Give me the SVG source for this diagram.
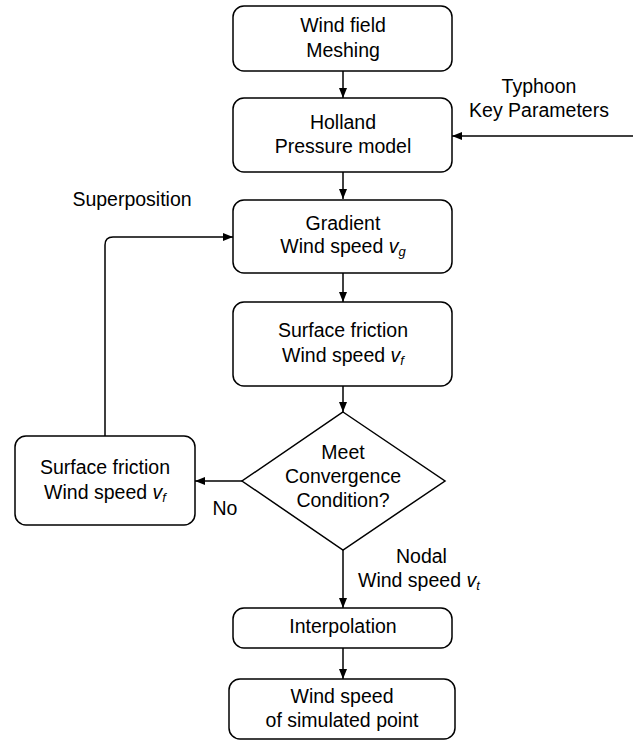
<svg xmlns="http://www.w3.org/2000/svg" width="633" height="741" viewBox="0 0 633 741">
<style>
.box{fill:#fff;stroke:#000;stroke-width:1.5}
.ln{fill:none;stroke:#000;stroke-width:1.5}
text{font-family:"Liberation Sans",Arial,sans-serif;font-size:19.5px;fill:#000;text-anchor:middle}
.l{text-anchor:start}
.i{font-style:italic}
.s{font-style:italic;font-size:13px}
</style>
<defs>
<marker id="ah" markerWidth="10" markerHeight="8" refX="10" refY="4" orient="auto" markerUnits="userSpaceOnUse">
<path d="M0,0 L10,4 L0,8 Z" fill="#000"/>
</marker>
</defs>
<rect width="633" height="741" fill="#fff"/>
<g id="connectors">
<line class="ln" x1="343" y1="71" x2="343" y2="98" marker-end="url(#ah)"/>
<line class="ln" x1="633" y1="136" x2="452" y2="136" marker-end="url(#ah)"/>
<line class="ln" x1="343" y1="172" x2="343" y2="199" marker-end="url(#ah)"/>
<line class="ln" x1="343" y1="273" x2="343" y2="302" marker-end="url(#ah)"/>
<line class="ln" x1="343" y1="386" x2="343" y2="412" marker-end="url(#ah)"/>
<line class="ln" x1="242" y1="481" x2="195" y2="481" marker-end="url(#ah)"/>
<path class="ln" d="M105,436 L105,245 Q105,237 113,237 L233,237" marker-end="url(#ah)"/>
<line class="ln" x1="343" y1="550" x2="343" y2="608" marker-end="url(#ah)"/>
<line class="ln" x1="343" y1="648" x2="343" y2="679" marker-end="url(#ah)"/>
<text x="539" y="93">Typhoon</text>
<text x="539" y="117">Key Parameters</text>
<text x="132" y="206">Superposition</text>
<text x="225" y="515">No</text>
<text class="l" x="396" y="563">Nodal</text>
<text class="l" x="358" y="587">Wind speed <tspan class="i">v</tspan><tspan class="s" dy="3">t</tspan></text>
</g>
<g id="n1">
<rect class="box" x="233" y="6" width="219" height="65" rx="11"/>
<text x="343" y="32">Wind field</text>
<text x="343" y="57">Meshing</text>
</g>
<g id="n2">
<rect class="box" x="233" y="98" width="219" height="74" rx="11"/>
<text x="343" y="129">Holland</text>
<text x="343" y="153">Pressure model</text>
</g>
<g id="n3">
<rect class="box" x="233" y="200" width="219" height="73" rx="11"/>
<text x="343" y="230">Gradient</text>
<text x="343" y="253">Wind speed <tspan class="i">v</tspan><tspan class="s" dy="3">g</tspan></text>
</g>
<g id="n4">
<rect class="box" x="233" y="302" width="219" height="84" rx="11"/>
<text x="343" y="337">Surface friction</text>
<text x="343" y="362">Wind speed <tspan class="i">v</tspan><tspan class="s" dy="3">f</tspan></text>
</g>
<g id="n5">
<polygon class="box" points="343,412 445,481 343,550 242,481"/>
<text x="343" y="459">Meet</text>
<text x="343" y="483">Convergence</text>
<text x="343" y="507">Condition?</text>
</g>
<g id="n6">
<rect class="box" x="15" y="436" width="180" height="89" rx="11"/>
<text x="105" y="474">Surface friction</text>
<text x="105" y="499">Wind speed <tspan class="i">v</tspan><tspan class="s" dy="3">f</tspan></text>
</g>
<g id="n7">
<rect class="box" x="233" y="608" width="219" height="40" rx="11"/>
<text x="343" y="633">Interpolation</text>
</g>
<g id="n8">
<rect class="box" x="229" y="679" width="226" height="60" rx="11"/>
<text x="342" y="703">Wind speed</text>
<text x="342" y="727">of simulated point</text>
</g>
</svg>
